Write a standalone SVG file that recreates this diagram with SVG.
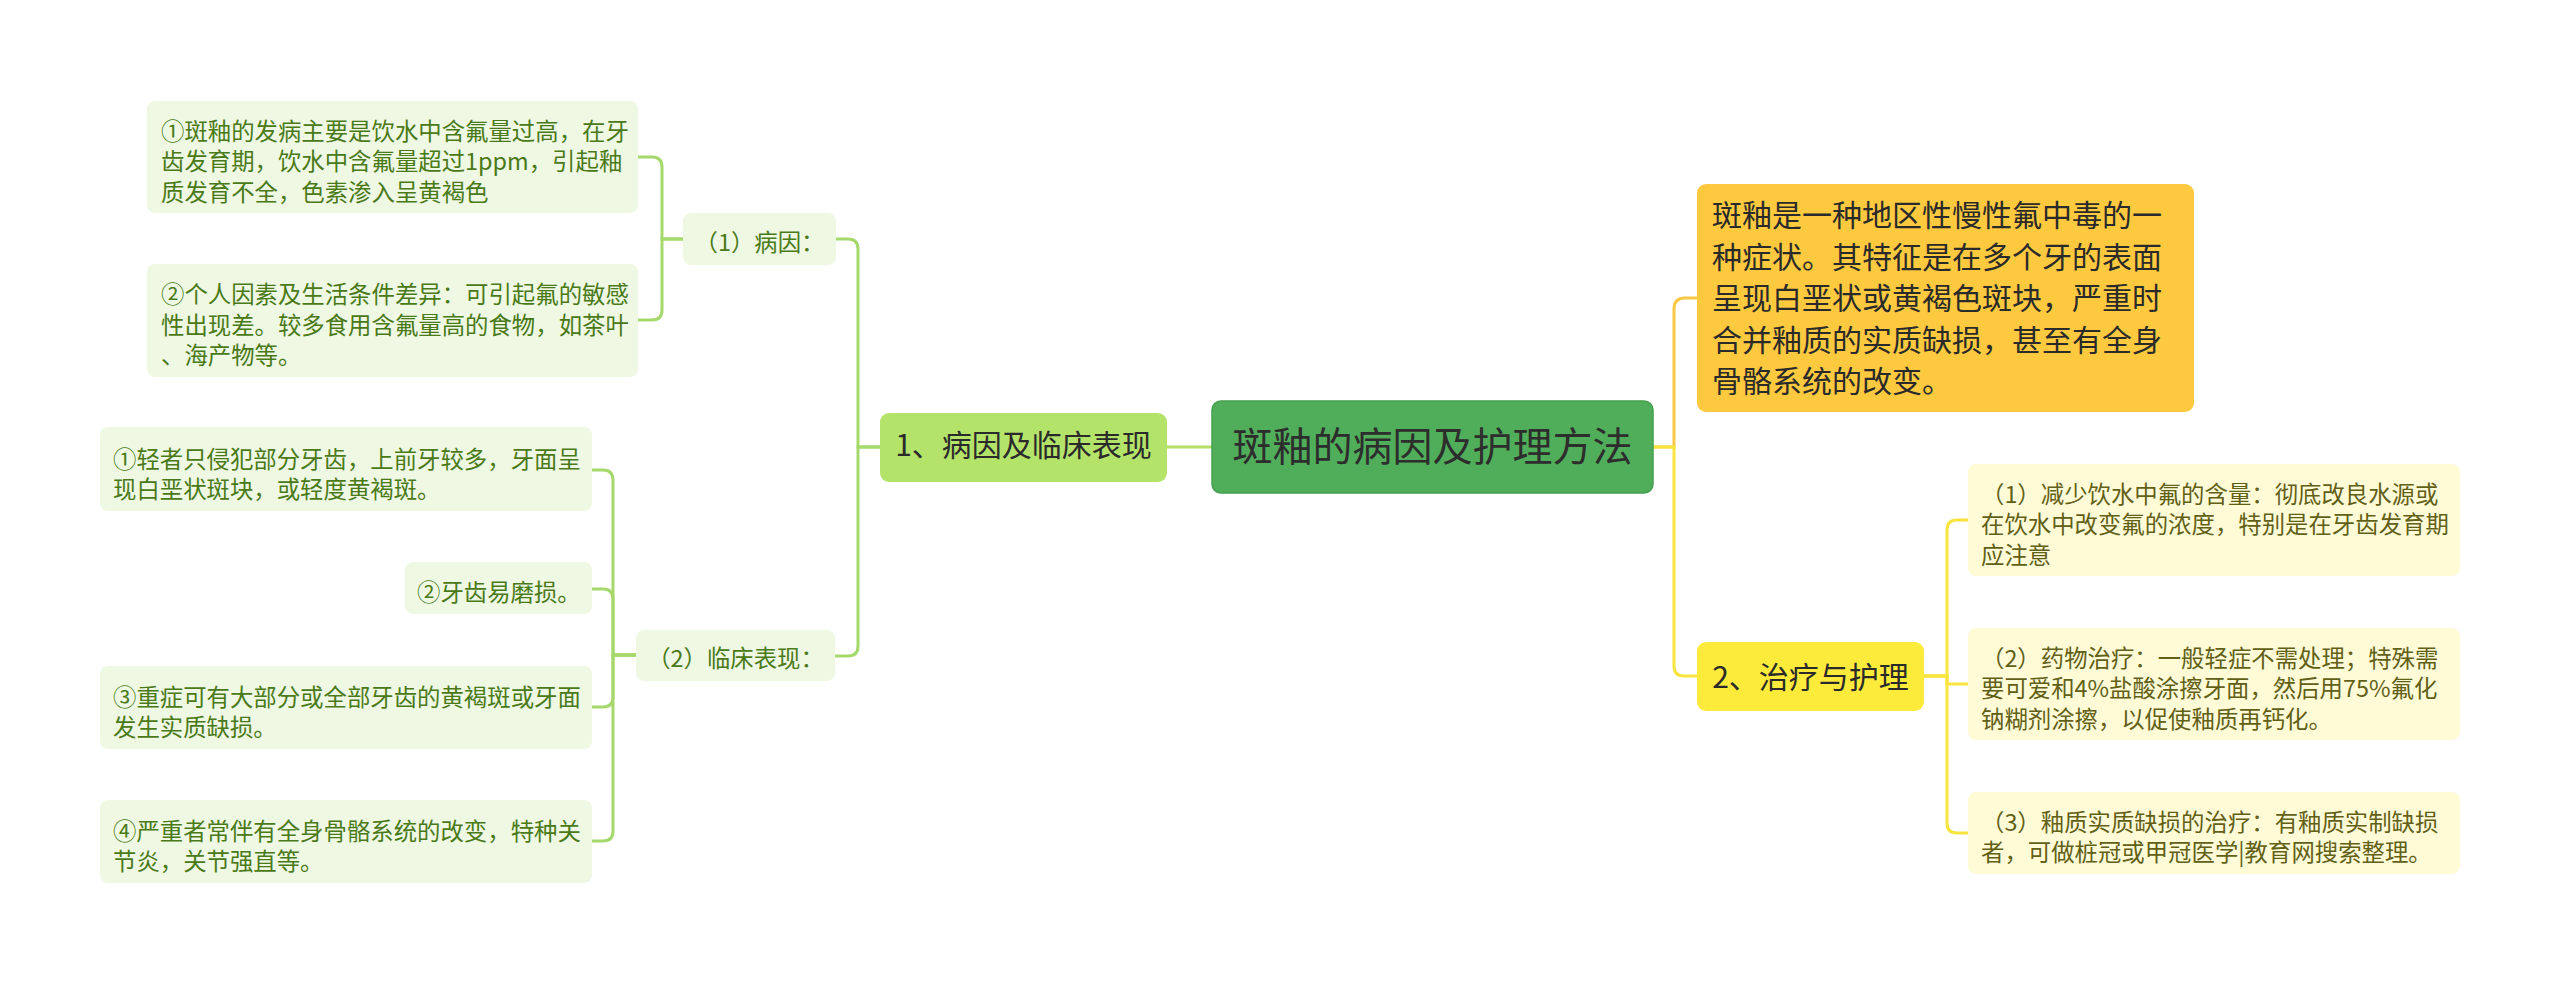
<svg xmlns="http://www.w3.org/2000/svg" width="2560" height="983" viewBox="0 0 2560 983">
<style>
text{font-family:"Noto Sans CJK SC","Noto Sans",sans-serif;}
.leafG{fill:#eff8e3;}
.leafY{fill:#fffbd7;}
.tG{font-size:23.4px;fill:#4a7a18;}
.tY{font-size:23.4px;fill:#625f16;}
.tB{font-size:30px;fill:#2a2a2a;}
.mid{text-anchor:middle;}
.cg{fill:none;stroke:#a6d96c;stroke-width:3;}
.cy{fill:none;stroke:#f8e43e;stroke-width:3;}
.co{fill:none;stroke:#f8c846;stroke-width:3;}
</style>
<rect width="2560" height="983" fill="#ffffff"/>
<g id="connectors">
  <path class="cg" d="M880,447 H858 V249 Q858,239 848,239 H836"/>
  <path class="cg" d="M880,447 H858 V646 Q858,656 848,656 H835"/>
  <path class="cg" d="M683,239 H662 V167 Q662,157 652,157 H638"/>
  <path class="cg" d="M683,239 H662 V310 Q662,320 652,320 H638"/>
  <path class="cg" d="M636,655 H613 V480 Q613,470 603,470 H592"/>
  <path class="cg" d="M636,655 H613 V599 Q613,589 603,589 H592"/>
  <path class="cg" d="M636,655 H613 V697 Q613,707 603,707 H592"/>
  <path class="cg" d="M636,655 H613 V831 Q613,841 603,841 H592"/>
  <path fill="none" stroke="#b4e06a" stroke-width="3" d="M1212,447 H1167"/>
  <path class="co" d="M1653,447 H1674 V309 Q1674,298 1685,298 H1697"/>
  <path class="cy" d="M1653,447 H1674 V666 Q1674,676 1684,676 H1697"/>
  <path class="cy" d="M1924,676 H1947 V530 Q1947,520 1957,520 H1968"/>
  <path class="cy" d="M1924,676 H1947 V684 H1968"/>
  <path class="cy" d="M1924,676 H1947 V823 Q1947,833 1957,833 H1968"/>
</g>
<g id="center">
  <rect x="1212" y="401" width="441" height="92" rx="9" fill="#50ae5a" stroke="#44a04e" stroke-width="1.5"/>
  <text x="1432.5" y="461" class="mid" font-size="40" fill="#2d2d2d">斑釉的病因及护理方法</text>
</g>
<g id="branch1">
  <rect x="880" y="413" width="287" height="69" rx="9" fill="#b4e36a"/>
  <text x="1023.5" y="456" class="tB mid">1、病因及临床表现</text>
</g>
<g id="cause">
  <rect class="leafG" x="683" y="213" width="153" height="52" rx="8"/>
  <text x="759.5" y="251" class="tG mid">（1）病因：</text>
</g>
<g id="cause1">
  <rect class="leafG" x="147" y="101" width="491" height="112" rx="8"/>
  <text class="tG" x="161" y="139.5">①斑釉的发病主要是饮水中含氟量过高，在牙</text>
  <text class="tG" x="161" y="170">齿发育期，饮水中含氟量超过1ppm，引起釉</text>
  <text class="tG" x="161" y="200.5">质发育不全，色素渗入呈黄褐色</text>
</g>
<g id="cause2">
  <rect class="leafG" x="147" y="264" width="491" height="113" rx="8"/>
  <text class="tG" x="161" y="303">②个人因素及生活条件差异：可引起氟的敏感</text>
  <text class="tG" x="161" y="333.5">性出现差。较多食用含氟量高的食物，如茶叶</text>
  <text class="tG" x="161" y="364">、海产物等。</text>
</g>
<g id="clinical">
  <rect class="leafG" x="636" y="630" width="199" height="51" rx="8"/>
  <text x="735.5" y="667" class="tG mid">（2）临床表现：</text>
</g>
<g id="clin1">
  <rect class="leafG" x="100" y="427" width="492" height="84" rx="8"/>
  <text class="tG" x="113" y="467.5">①轻者只侵犯部分牙齿，上前牙较多，牙面呈</text>
  <text class="tG" x="113" y="498">现白垩状斑块，或轻度黄褐斑。</text>
</g>
<g id="clin2">
  <rect class="leafG" x="405" y="562" width="187" height="52" rx="8"/>
  <text class="tG" x="417" y="601">②牙齿易磨损。</text>
</g>
<g id="clin3">
  <rect class="leafG" x="100" y="666" width="492" height="83" rx="8"/>
  <text class="tG" x="113" y="705.5">③重症可有大部分或全部牙齿的黄褐斑或牙面</text>
  <text class="tG" x="113" y="736">发生实质缺损。</text>
</g>
<g id="clin4">
  <rect class="leafG" x="100" y="800" width="492" height="83" rx="8"/>
  <text class="tG" x="113" y="839.5">④严重者常伴有全身骨骼系统的改变，特种关</text>
  <text class="tG" x="113" y="870">节炎，关节强直等。</text>
</g>
<g id="summary">
  <rect x="1697" y="184" width="497" height="228" rx="9" fill="#fdc93f"/>
  <text class="tB" x="1712" y="226">斑釉是一种地区性慢性氟中毒的一</text>
  <text class="tB" x="1712" y="268">种症状。其特征是在多个牙的表面</text>
  <text class="tB" x="1712" y="309">呈现白垩状或黄褐色斑块，严重时</text>
  <text class="tB" x="1712" y="351">合并釉质的实质缺损，甚至有全身</text>
  <text class="tB" x="1712" y="392">骨骼系统的改变。</text>
</g>
<g id="branch2">
  <rect x="1697" y="642" width="227" height="69" rx="9" fill="#fdeb3c"/>
  <text x="1810.5" y="688" class="tB mid">2、治疗与护理</text>
</g>
<g id="treat1">
  <rect class="leafY" x="1968" y="464" width="492" height="112" rx="8"/>
  <text class="tY" x="1981" y="502.5">（1）减少饮水中氟的含量：彻底改良水源或</text>
  <text class="tY" x="1981" y="533">在饮水中改变氟的浓度，特别是在牙齿发育期</text>
  <text class="tY" x="1981" y="563.5">应注意</text>
</g>
<g id="treat2">
  <rect class="leafY" x="1968" y="628" width="492" height="112" rx="8"/>
  <text class="tY" x="1981" y="666.5">（2）药物治疗：一般轻症不需处理；特殊需</text>
  <text class="tY" x="1981" y="697">要可爱和4%盐酸涂擦牙面，然后用75%氟化</text>
  <text class="tY" x="1981" y="727.5">钠糊剂涂擦，以促使釉质再钙化。</text>
</g>
<g id="treat3">
  <rect class="leafY" x="1968" y="792" width="492" height="82" rx="8"/>
  <text class="tY" x="1981" y="830.5">（3）釉质实质缺损的治疗：有釉质实制缺损</text>
  <text class="tY" x="1981" y="861">者，可做桩冠或甲冠医学|教育网搜索整理。</text>
</g>
</svg>
